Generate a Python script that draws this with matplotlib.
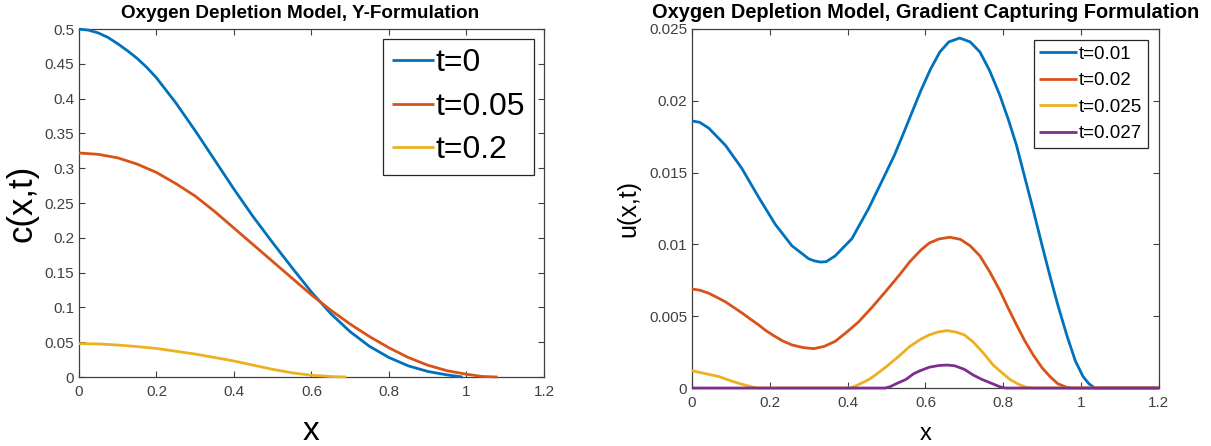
import matplotlib
matplotlib.use("Agg")
import matplotlib.pyplot as plt
from matplotlib.ticker import FormatStrFormatter, MultipleLocator

plt.rcParams["font.family"] = ["Liberation Sans", "DejaVu Sans"]

# MATLAB default line colours
BLUE, ORANGE, YELLOW, PURPLE = "#0072BD", "#D95319", "#EDB120", "#7E2F8E"
AXCOL = "#404040"

# ── left panel: c(x,t), Y-formulation ──
c_x0 = [0.0, 0.025, 0.05, 0.075, 0.1, 0.125, 0.15, 0.175, 0.2, 0.25, 0.3, 0.35, 0.4, 0.45,
        0.5, 0.55, 0.6, 0.65, 0.7, 0.75, 0.8, 0.85, 0.9, 0.95, 0.99]
c_t0 = [0.5, 0.4985, 0.4945, 0.488, 0.479, 0.469, 0.458, 0.445, 0.43, 0.394, 0.354, 0.312,
        0.27, 0.23, 0.193, 0.157, 0.122, 0.091, 0.065, 0.044, 0.028, 0.016, 0.008, 0.003, 0.0]
c_x005 = [0.0, 0.05, 0.1, 0.15, 0.2, 0.25, 0.3, 0.35, 0.4, 0.45, 0.5, 0.55, 0.6, 0.65,
          0.7, 0.75, 0.8, 0.85, 0.9, 0.95, 1.0, 1.04, 1.08]
c_t005 = [0.322, 0.320, 0.315, 0.306, 0.294, 0.278, 0.26, 0.238, 0.214, 0.19, 0.166, 0.142,
          0.118, 0.096, 0.076, 0.058, 0.042, 0.028, 0.017, 0.009, 0.004, 0.0008, 0.0]
c_x02 = [0.0, 0.05, 0.1, 0.15, 0.2, 0.25, 0.3, 0.35, 0.4, 0.45, 0.5, 0.55, 0.6, 0.65, 0.69]
c_t02 = [0.048, 0.0475, 0.046, 0.0437, 0.041, 0.037, 0.033, 0.028, 0.023, 0.017, 0.011,
         0.006, 0.0025, 0.0007, 0.0]

# ── right panel: u(x,t), gradient capturing formulation ──
u_x1 = [0.0, 0.02, 0.043, 0.086, 0.128, 0.171, 0.214, 0.257, 0.3, 0.315, 0.33, 0.345,
        0.368, 0.411, 0.454, 0.497, 0.52, 0.54, 0.564, 0.588, 0.613, 0.637, 0.66, 0.688,
        0.715, 0.74, 0.765, 0.791, 0.813, 0.834, 0.855, 0.877, 0.9, 0.92, 0.94, 0.963,
        0.985, 1.005, 1.02, 1.035, 1.2]
u_t001 = [0.0186, 0.0185, 0.0181, 0.0169, 0.0153, 0.0133, 0.0114, 0.0099, 0.0090, 0.00885,
          0.00877, 0.0088, 0.0092, 0.0104, 0.0125, 0.0149, 0.0162, 0.0175, 0.0191, 0.0207,
          0.0222, 0.0234, 0.0241, 0.02437, 0.0241, 0.0234, 0.0221, 0.0204, 0.0187, 0.0169,
          0.0147, 0.0124, 0.0099, 0.0078, 0.0058, 0.0037, 0.0019, 0.0008, 0.0003, 0.0, 0.0]
u_x2 = [0.0, 0.022, 0.043, 0.065, 0.086, 0.108, 0.13, 0.15, 0.171, 0.19, 0.21, 0.233, 0.257,
        0.285, 0.313, 0.34, 0.368, 0.398, 0.428, 0.462, 0.497, 0.534, 0.56, 0.588, 0.61,
        0.635, 0.663, 0.69, 0.715, 0.74, 0.765, 0.791, 0.812, 0.834, 0.855, 0.877, 0.9,
        0.92, 0.94, 0.963, 0.975, 1.2]
u_t002 = [0.0069, 0.0068, 0.0066, 0.0063, 0.0060, 0.0056, 0.0052, 0.0048, 0.0044, 0.0040,
          0.00365, 0.00328, 0.0030, 0.00282, 0.00274, 0.0029, 0.00325, 0.0039, 0.0046, 0.0056,
          0.0067, 0.0079, 0.0088, 0.0096, 0.0101, 0.01038, 0.0105, 0.01035, 0.0099, 0.0092,
          0.0081, 0.0068, 0.0056, 0.0044, 0.0033, 0.0023, 0.0014, 0.0008, 0.0003, 0.00005,
          0.0, 0.0]
u_x3 = [0.0, 0.035, 0.069, 0.1, 0.12, 0.14, 0.155, 0.17, 0.407, 0.425, 0.44, 0.455, 0.471,
        0.5, 0.531, 0.56, 0.588, 0.61, 0.632, 0.655, 0.678, 0.7, 0.723, 0.75, 0.774, 0.795,
        0.817, 0.84, 0.86, 0.875, 1.2]
u_t0025 = [0.0012, 0.0010, 0.0008, 0.0005, 0.00033, 0.00018, 0.00007, 0.0, 0.0, 0.0002,
           0.0004, 0.0006, 0.0009, 0.0015, 0.0022, 0.0029, 0.0034, 0.0037, 0.0039, 0.0040,
           0.0039, 0.0037, 0.0032, 0.0024, 0.0016, 0.0011, 0.0006, 0.00025, 0.00005, 0.0, 0.0]
u_x4 = [0.0, 0.497, 0.51, 0.525, 0.55, 0.57, 0.586, 0.61, 0.635, 0.655, 0.675, 0.7, 0.723,
        0.745, 0.774, 0.79, 0.805, 1.2]
u_t0027 = [0.0, 0.0, 0.0001, 0.0003, 0.0006, 0.0010, 0.0012, 0.00145, 0.00157, 0.0016,
           0.00155, 0.0013, 0.0009, 0.0006, 0.00028, 0.0001, 0.0, 0.0]

x_ticks = [0, 0.2, 0.4, 0.6, 0.8, 1.0, 1.2]


def matlab_axes(ax):
    ax.tick_params(direction="in", top=True, right=True, colors=AXCOL, labelcolor=AXCOL,
                   labelsize=11, length=4, width=0.8)
    ax.tick_params(axis="x", pad=6)
    for s in ax.spines.values():
        s.set_color(AXCOL)
        s.set_linewidth(0.9)
    ax.xaxis.set_major_formatter(FormatStrFormatter("%g"))
    ax.yaxis.set_major_formatter(FormatStrFormatter("%g"))


fig = plt.figure(figsize=(12.11, 4.46), dpi=100)
ax1 = fig.add_axes([0.0652, 0.1547, 0.384, 0.780])
ax2 = fig.add_axes([0.5714, 0.130, 0.3856, 0.805])

lw = 2.0
kw = dict(lw=lw, clip_on=False, zorder=3, solid_capstyle="butt", solid_joinstyle="round")
ax1.plot(c_x0, c_t0, color=BLUE, label="t=0", **kw)
ax1.plot(c_x005, c_t005, color=ORANGE, label="t=0.05", **kw)
ax1.plot(c_x02, c_t02, color=YELLOW, label="t=0.2", **kw)
ax1.set_xlim(0, 1.2)
ax1.set_ylim(0, 0.5)
ax1.set_xticks(x_ticks)
ax1.yaxis.set_major_locator(MultipleLocator(0.05))
matlab_axes(ax1)
ax1.set_title("Oxygen Depletion Model, Y-Formulation", fontsize=13.6, fontweight="bold",
              pad=8, x=0.475)
ax1.set_xlabel("x", fontsize=24, labelpad=12)
ax1.set_ylabel("c(x,t)", fontsize=25, labelpad=4)
leg1 = ax1.legend(loc="upper right", fontsize=23, handlelength=1.3, handletextpad=0.05,
                  borderpad=0.3, labelspacing=0.42, fancybox=False, framealpha=1,
                  edgecolor="#262626", borderaxespad=0.3)
leg1.get_frame().set_linewidth(0.9)

ax2.plot(u_x1, u_t001, color=BLUE, label="t=0.01", **kw)
ax2.plot(u_x2, u_t002, color=ORANGE, label="t=0.02", **kw)
ax2.plot(u_x3, u_t0025, color=YELLOW, label="t=0.025", **kw)
ax2.plot(u_x4, u_t0027, color=PURPLE, label="t=0.027", **kw)
ax2.set_xlim(0, 1.2)
ax2.set_ylim(0, 0.025)
ax2.set_xticks(x_ticks)
ax2.yaxis.set_major_locator(MultipleLocator(0.005))
matlab_axes(ax2)
ax2.set_title("Oxygen Depletion Model, Gradient Capturing Formulation", fontsize=14.4,
              fontweight="bold", pad=8)
ax2.set_xlabel("x", fontsize=17, labelpad=9)
ax2.set_ylabel("u(x,t)", fontsize=18, labelpad=6)
leg2 = ax2.legend(loc="upper right", fontsize=13.5, handlelength=2.0, handletextpad=0.1,
                  borderpad=0.3, labelspacing=0.5, fancybox=False, framealpha=1,
                  edgecolor="#262626", borderaxespad=0.6)
leg2.get_frame().set_linewidth(0.9)

fig.savefig("out.png", dpi=100)
